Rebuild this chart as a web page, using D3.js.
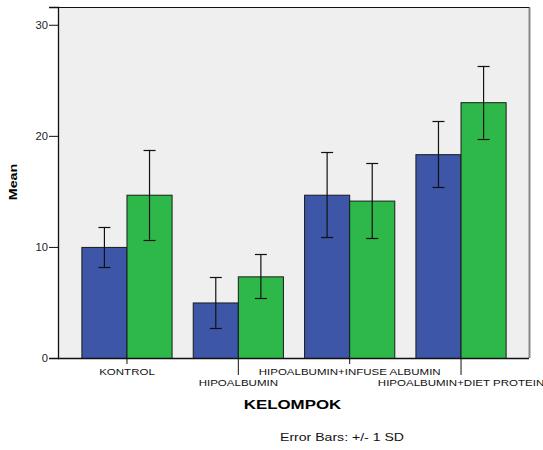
<!DOCTYPE html>
<html>
<head>
<meta charset="utf-8">
<script src="https://cdn.jsdelivr.net/npm/d3@7"></script>
<style>
  body { margin: 0; background: #fff; }
  text { font-family: Arial, "Liberation Sans", sans-serif; }
</style>
</head>
<body>
<script>
var kelompok = ["KONTROL", "HIPOALBUMIN", "HIPOALBUMIN+INFUSE ALBUMIN", "HIPOALBUMIN+DIET PROTEIN"]
  , seriesKeys = ["a", "b"]
  , meanA = [10.0, 5.0, 14.7, 18.35]
  , sdA   = [1.8, 2.27, 3.83, 2.95]
  , meanB = [14.7, 7.35, 14.17, 23.03]
  , sdB   = [4.04, 1.98, 3.38, 3.27]
  , yTicks = [0, 10, 20, 30];

var colors = { a: "#3d56a8", b: "#2eb84a" };

// note: "top" is a window global, so the plot edges get their own names
var width = 543, height = 450
  , pLeft = 58, pRight = 529, pTop = 7, pBottom = 358
  , stretch = 1.28;   // the source text is drawn wide, so squash it out a bit

var svg = d3.select("body").append("svg")
  .attr("width", width)
  .attr("height", height);

var y = d3.scaleLinear().domain([0, 31.6]).range([pBottom, pTop]);

var x = d3.scaleBand()
  .domain(kelompok)
  .range([pLeft, pRight])
  .paddingInner(0.19)
  .paddingOuter(0.21);

var xs = d3.scaleBand().domain(seriesKeys).range([0, x.bandwidth()]);

// plot background + frame
svg.append("rect")
  .attr("x", pLeft).attr("y", pTop)
  .attr("width", pRight - pLeft).attr("height", pBottom - pTop)
  .attr("fill", "#efefef");
svg.append("line").attr("x1", pRight + 0.5).attr("x2", pRight + 0.5)
  .attr("y1", pTop).attr("y2", pBottom).attr("stroke", "#888").attr("stroke-width", 2);
svg.append("line").attr("x1", pLeft).attr("x2", pRight)
  .attr("y1", pTop + 0.5).attr("y2", pTop + 0.5).attr("stroke", "#111");

var rows = kelompok.map(function (k, i) {
  return [
    { k: k, s: "a", mean: meanA[i], sd: sdA[i] },
    { k: k, s: "b", mean: meanB[i], sd: sdB[i] }
  ];
});

var g = svg.append("g").selectAll("g")
  .data(rows)
  .join("g")
  .attr("transform", function (d) { return "translate(" + x(d[0].k) + ",0)"; });

g.selectAll("rect")
  .data(function (d) { return d; })
  .join("rect")
  .attr("x", function (d) { return xs(d.s) + 0.5; })
  .attr("y", function (d) { return y(d.mean) + 0.5; })
  .attr("width", xs.bandwidth())
  .attr("height", function (d) { return pBottom - y(d.mean); })
  .attr("fill", function (d) { return colors[d.s]; })
  .attr("stroke", "#1a1a1a")
  .attr("stroke-width", 1);

// error bars
var eb = g.selectAll("g.err")
  .data(function (d) { return d; })
  .join("g")
  .attr("class", "err")
  .attr("stroke", "#111")
  .attr("stroke-width", 1.2);

eb.append("line")
  .attr("x1", function (d) { return xs(d.s) + xs.bandwidth() / 2 + 0.5; })
  .attr("x2", function (d) { return xs(d.s) + xs.bandwidth() / 2 + 0.5; })
  .attr("y1", function (d) { return y(d.mean + d.sd); })
  .attr("y2", function (d) { return y(d.mean - d.sd); });
eb.selectAll("line.cap")
  .data(function (d) { return [d.mean + d.sd, d.mean - d.sd].map(function (v) { return { s: d.s, v: v }; }); })
  .join("line")
  .attr("class", "cap")
  .attr("x1", function (d) { return xs(d.s) + xs.bandwidth() / 2 - 5.5; })
  .attr("x2", function (d) { return xs(d.s) + xs.bandwidth() / 2 + 6.5; })
  .attr("y1", function (d) { return Math.round(y(d.v)) + 0.5; })
  .attr("y2", function (d) { return Math.round(y(d.v)) + 0.5; });

// y axis
var yAxis = svg.append("g")
  .attr("transform", "translate(" + pLeft + ",0)")
  .call(d3.axisLeft(y).tickValues(yTicks).tickSize(9).tickPadding(2));
yAxis.select(".domain").attr("stroke", "#111").attr("stroke-width", 1.3);
yAxis.selectAll("line").attr("stroke", "#111");
yAxis.selectAll("text")
  .attr("x", 0).attr("dy", null)
  .attr("transform", "translate(-10,3.5) scale(1.12,1)")
  .attr("font-size", 10).attr("fill", "#222")
  .attr("font-family", "Arial, 'Liberation Sans', sans-serif");

// x axis with staggered labels
svg.append("line").attr("x1", pLeft).attr("x2", pRight)
  .attr("y1", pBottom + 0.5).attr("y2", pBottom + 0.5).attr("stroke", "#111").attr("stroke-width", 1.3);

var xt = svg.append("g").selectAll("g")
  .data(kelompok)
  .join("g")
  .attr("transform", function (d) { return "translate(" + (x(d) + x.bandwidth() / 2 + 0.5) + ",0)"; });
xt.append("line")
  .attr("y1", pBottom)
  .attr("y2", function (d, i) { return i % 2 ? pBottom + 17 : pBottom + 6; })
  .attr("stroke", "#111");
xt.append("text")
  .attr("transform", function (d, i) { return "translate(0," + (i % 2 ? 386 : 374.5) + ") scale(" + stretch + ",1)"; })
  .attr("text-anchor", "middle")
  .attr("font-size", 9)
  .attr("fill", "#111")
  .text(function (d) { return d; });

svg.append("text")
  .attr("transform", "translate(292.5,409) scale(1.3,1)")
  .attr("text-anchor", "middle")
  .attr("font-size", 13).attr("font-weight", "bold")
  .text("KELOMPOK");

svg.append("text")
  .attr("transform", "translate(17,182) rotate(-90) scale(1.3,1)")
  .attr("text-anchor", "middle")
  .attr("font-size", 11).attr("font-weight", "bold")
  .text("Mean");

svg.append("text")
  .attr("transform", "translate(342,441) scale(" + stretch + ",1)")
  .attr("text-anchor", "middle")
  .attr("font-size", 11)
  .attr("fill", "#111")
  .text("Error Bars: +/- 1 SD");
</script>
</body>
</html>
